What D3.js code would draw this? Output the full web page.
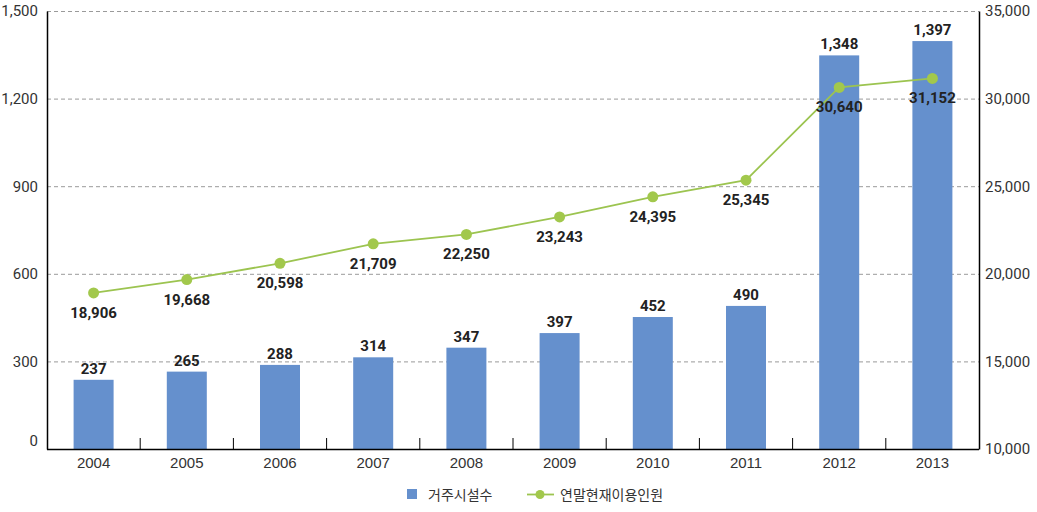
<!DOCTYPE html>
<html><head><meta charset="utf-8">
<script src="https://cdn.jsdelivr.net/npm/d3@7"></script>
<style>
body{margin:0;background:#fff;}
svg{display:block;font-family:Roboto,"Noto Sans CJK KR",sans-serif;}
</style></head>
<body>
<svg id="chart" width="1037" height="512"></svg>
<script>
const years = ["2004","2005","2006","2007","2008","2009","2010","2011","2012","2013"];
const facilities = [237,265,288,314,347,397,452,490,1348,1397];
const users = [18906,19668,20598,21709,22250,23243,24395,25345,30640,31152];
const leftTicks = [0,300,600,900,1200,1500];
const rightTicks = [10000,15000,20000,25000,30000,35000];
const seriesNames = ["거주시설수","연말현재이용인원"];

const svg = d3.select("#chart");
const m = {left:47, right:979, top:11, bottom:449};
const x = d3.scaleBand().domain(years).range([m.left, m.right]).padding(0);
const yL = d3.scaleLinear().domain([0,1500]).range([m.bottom, m.top]);
const yR = d3.scaleLinear().domain([10000,35000]).range([m.bottom, m.top]);
const barColor = "#6590cd", lineColor = "#9cc450", dotColor = "#a2c84c";
const fmt = d3.format(",");

// gridlines
svg.append("g").selectAll("line").data(leftTicks.filter(d=>d>0)).join("line")
  .attr("x1", m.left).attr("x2", m.right)
  .attr("y1", d=>yL(d)+0.5).attr("y2", d=>yL(d)+0.5)
  .attr("stroke","#9a9a9a").attr("stroke-dasharray","4,3");

// bars
svg.append("g").selectAll("rect").data(facilities).join("rect")
  .attr("x",(d,i)=>x(years[i])+x.bandwidth()/2-20)
  .attr("width",40)
  .attr("y",d=>yL(d)).attr("height",d=>m.bottom-yL(d))
  .attr("fill",barColor);

// axes
const axL = svg.append("g").attr("transform",`translate(${m.left},0)`)
  .call(d3.axisLeft(yL).tickValues(leftTicks).tickFormat(fmt).tickSize(0).tickPadding(9));
const axR = svg.append("g").attr("transform",`translate(${m.right},0)`)
  .call(d3.axisRight(yR).tickValues(rightTicks).tickFormat(fmt).tickSize(0).tickPadding(6));
[axL,axR].forEach(a=>{
  a.select(".domain").attr("stroke","#000").attr("stroke-width",1.5);
  a.selectAll("text").attr("font-size",15).attr("fill","#333").attr("font-family","Roboto");
});
axL.selectAll(".tick text").attr("dy", d=> d===0 ? "-0.22em" : "0.32em");
axR.selectAll(".tick text").attr("dy","0.32em");

const axB = svg.append("g").attr("transform",`translate(0,${m.bottom})`)
  .call(d3.axisBottom(x).tickSize(0).tickPadding(8));
axB.select(".domain").remove();
axB.selectAll("text").attr("font-size",15).attr("fill","#333");
svg.append("line").attr("x1",m.left).attr("x2",m.right).attr("y1",m.bottom+0.5).attr("y2",m.bottom+0.5)
  .attr("stroke","#000").attr("stroke-width",1.5);
// category boundary ticks
svg.append("g").selectAll("line").data(years.slice(1)).join("line")
  .attr("x1",d=>x(d)).attr("x2",d=>x(d))
  .attr("y1",m.bottom-11).attr("y2",m.bottom)
  .attr("stroke","#000").attr("stroke-width",1);

// line
const line = d3.line().x((d,i)=>x(years[i])+x.bandwidth()/2).y(d=>yR(d));
svg.append("path").datum(users).attr("d",line).attr("fill","none")
  .attr("stroke",lineColor).attr("stroke-width",1.8);
svg.append("g").selectAll("circle").data(users).join("circle")
  .attr("cx",(d,i)=>x(years[i])+x.bandwidth()/2).attr("cy",d=>yR(d)).attr("r",5.5)
  .attr("fill",dotColor);

// labels
svg.append("g").selectAll("text").data(facilities).join("text")
  .attr("x",(d,i)=>x(years[i])+x.bandwidth()/2).attr("y",d=>yL(d)-6)
  .attr("text-anchor","middle").attr("font-size",15).attr("font-weight","bold").attr("fill","#222")
  .text(fmt);
svg.append("g").selectAll("text").data(users).join("text")
  .attr("x",(d,i)=>x(years[i])+x.bandwidth()/2).attr("y",d=>yR(d)+25)
  .attr("text-anchor","middle").attr("font-size",15).attr("font-weight","bold").attr("fill","#222")
  .text(fmt);

// legend
const lg = svg.append("g").attr("font-family","'Noto Sans CJK KR',sans-serif").attr("font-size",14).attr("fill","#333");
lg.append("rect").attr("x",407).attr("y",489).attr("width",10).attr("height",10).attr("fill",barColor);
lg.append("text").attr("x",428).attr("y",500).text(seriesNames[0]);
lg.append("line").attr("x1",527).attr("x2",554).attr("y1",494.5).attr("y2",494.5).attr("stroke",lineColor).attr("stroke-width",1.8);
lg.append("circle").attr("cx",540).attr("cy",494.5).attr("r",4.5).attr("fill",dotColor);
lg.append("text").attr("x",560).attr("y",500).text(seriesNames[1]);
</script>
</body></html>
